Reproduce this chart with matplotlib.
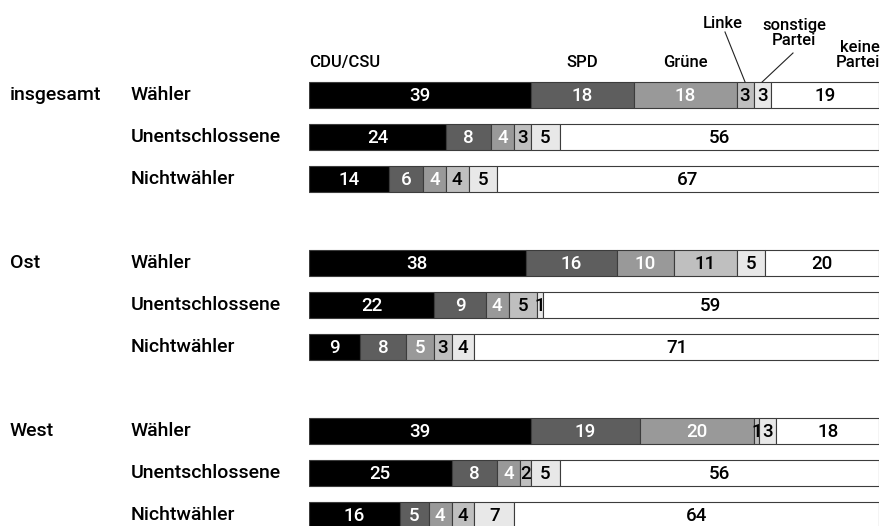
import numpy as np
import matplotlib.pyplot as plt

# shares in percent: CDU/CSU, SPD, Grüne, Linke, sonstige Partei, keine Partei
groups = ["insgesamt", "Ost", "West"]
subgroups = ["Wähler", "Unentschlossene", "Nichtwähler"]
parties = ["CDU/CSU", "SPD", "Grüne", "Linke", "sonstige Partei", "keine Partei"]

insgesamt = [[39, 18, 18, 3, 3, 19],
             [24, 8, 4, 3, 5, 56],
             [14, 6, 4, 4, 5, 67]]
ost = [[38, 16, 10, 11, 5, 20],
       [22, 9, 4, 5, 1, 59],
       [9, 8, 5, 3, 4, 71]]
west = [[39, 19, 20, 1, 3, 18],
        [25, 8, 4, 2, 5, 56],
        [16, 5, 4, 4, 7, 64]]

colors = ["#000000", "#5e5e5e", "#999999", "#bfbfbf", "#e8e8e8", "#ffffff"]
text_colors = ["white", "white", "white", "black", "black", "black"]

plt.rcParams['font.family'] = ['Roboto', 'DejaVu Sans']
plt.rcParams['font.weight'] = 'medium'

W, H = 882, 526
fig = plt.figure(figsize=(W / 100, H / 100), dpi=100)
x0, x1 = 309, 879
ax = fig.add_axes([x0 / W, 0, (x1 - x0) / W, 1])

row0, step = 95, 42   # pixel centre of first row, row spacing


def py(p):
    # pixel y -> row coordinate
    return (p - row0) / step


def px(p):
    return (p - x0) / (x1 - x0) * 100


ax.set_xlim(0, 100)
ax.set_ylim(py(H), py(0))
ax.axis("off")

data = np.array(insgesamt + ost + west)
ypos = [0, 1, 2, 4, 5, 6, 8, 9, 10]

left = np.zeros(len(ypos))
for k in range(len(parties)):
    vals = data[:, k]
    ax.barh(ypos, vals, left=left, height=0.62, color=colors[k],
            edgecolor="#3c3c3c", linewidth=0.8)
    for y, l, v in zip(ypos, left, vals):
        ax.text(l + v / 2, y + 0.02, str(v), ha="center", va="center",
                color=text_colors[k], fontsize=13.5)
    left += vals

# row labels
for g, name in enumerate(groups):
    ax.text(px(10), ypos[g * 3], name, ha="left", va="center",
            fontsize=14, clip_on=False)
    for s, sub in enumerate(subgroups):
        ax.text(px(131), ypos[g * 3 + s], sub, ha="left", va="center",
                fontsize=14, clip_on=False)

# party headers
first = data[0]
cum = np.concatenate([[0], np.cumsum(first)])
mid = (cum[:-1] + cum[1:]) / 2
hfs = 12
ax.text(0, py(67), "CDU/CSU", ha="left", va="baseline", fontsize=hfs)
ax.text(mid[1], py(67), "SPD", ha="center", va="baseline", fontsize=hfs)
ax.text(mid[2], py(67), "Grüne", ha="center", va="baseline", fontsize=hfs)
ax.text(px(723), py(28), "Linke", ha="center", va="baseline", fontsize=hfs)
ax.text(px(794), py(45), "sonstige\nPartei", ha="center", va="baseline",
        multialignment="center", fontsize=hfs, linespacing=1.0)
ax.text(px(880), py(67), "keine\nPartei", ha="right", va="baseline",
        multialignment="right", fontsize=hfs, linespacing=1.0,
        clip_on=False)

bar_top = -0.31
ax.plot([px(725), mid[3]], [py(32), bar_top], color="#222222", lw=0.8)
ax.plot([px(793), mid[4]], [py(53), bar_top], color="#222222", lw=0.8)

fig.savefig("out.png", dpi=100)
